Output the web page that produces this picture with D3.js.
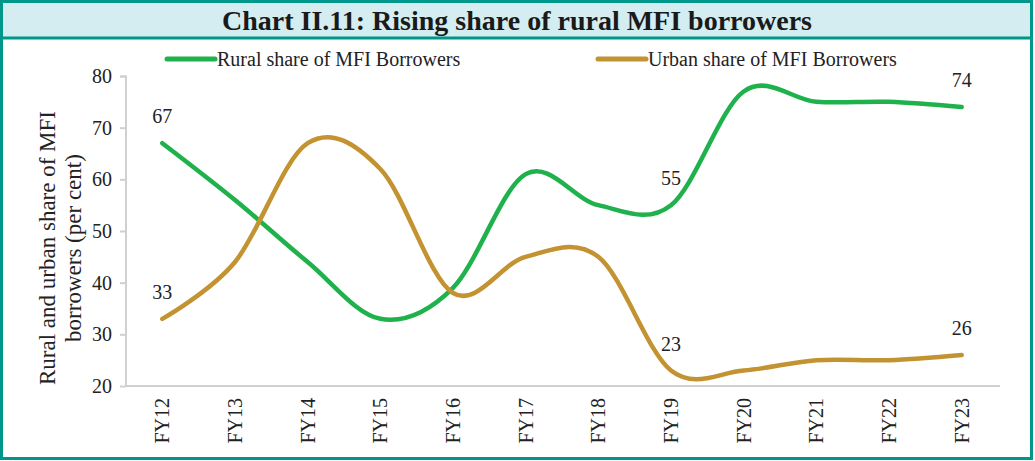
<!DOCTYPE html>
<html>
<head>
<meta charset="utf-8">
<script src="https://cdn.jsdelivr.net/npm/d3@7"></script>
<style>
  body { margin: 0; background: #fff; }
  svg { display: block; }
</style>
</head>
<body>
<svg id="chart"></svg>
<script>
const years = ['FY12', 'FY13', 'FY14', 'FY15', 'FY16', 'FY17', 'FY18', 'FY19', 'FY20', 'FY21', 'FY22', 'FY23']
const rural = [67, 56, 44, 33, 39, 61, 55, 55, 77, 75, 75, 74]
const urban = [33, 44, 67, 62, 38, 45, 45, 23, 23, 25, 25, 26]
const yTicks = [20, 30, 40, 50, 60, 70, 80]
// which points carry a value label
const labelled = ['FY12', 'FY19', 'FY23']

const W = 1035
const H = 461
const teal = '#00978a'
const green = '#1fb14c'
const gold = '#c29330'
const axisGray = '#d0d0d0'
const serif = '"Liberation Serif", "Times New Roman", serif'

const svg = d3.select('#chart')
  .attr('width', W)
  .attr('height', H)

// outer frame and title bar
svg.append('rect')
  .attr('x', 1.5).attr('y', 1.5)
  .attr('width', W - 5).attr('height', H - 4)
  .attr('fill', '#fff')
  .attr('stroke', teal)
  .attr('stroke-width', 3)
svg.append('rect')
  .attr('x', 3).attr('y', 3)
  .attr('width', W - 8).attr('height', 34)
  .attr('fill', '#d4edf1')
svg.append('line')
  .attr('x1', 0).attr('x2', W - 2)
  .attr('y1', 38).attr('y2', 38)
  .attr('stroke', teal)
  .attr('stroke-width', 3)
svg.append('text')
  .attr('x', 517).attr('y', 20)
  .attr('text-anchor', 'middle')
  .attr('dominant-baseline', 'central')
  .attr('font-family', serif)
  .attr('font-weight', 'bold')
  .attr('font-size', 28)
  .attr('fill', '#1a1a1a')
  .text('Chart II.11: Rising share of rural MFI borrowers')

const x = d3.scaleBand()
  .domain(years)
  .range([126, 998])
const y = d3.scaleLinear()
  .domain([20, 80])
  .range([386, 76])

// axes
const yAxis = svg.append('g')
  .attr('transform', 'translate(126,0)')
  .call(d3.axisLeft(y).tickValues(yTicks).tickSize(6).tickPadding(8))
const xAxis = svg.append('g')
  .attr('transform', 'translate(0,386)')
  .call(d3.axisBottom(x).tickSize(0).tickPadding(12))
xAxis.select('path.domain').attr('d', 'M126,0H1000')
yAxis.select('path.domain').attr('d', 'M-6,0.5H0V310')
  .attr('transform', 'translate(0,76)')
svg.selectAll('.domain, .tick line')
  .attr('stroke', axisGray)
  .attr('stroke-width', 2)
yAxis.selectAll('.tick text')
  .attr('font-family', serif)
  .attr('font-size', 20)
  .attr('fill', '#222')
xAxis.selectAll('.tick text')
  .attr('font-family', serif)
  .attr('font-size', 20)
  .attr('fill', '#222')
  .attr('text-anchor', 'end')
  .attr('dy', '0.35em')
  .attr('transform', 'rotate(-90)')
  .attr('x', -12)
  .attr('y', 0)

// y axis title
const yTitle = svg.append('text')
  .attr('transform', 'translate(47,248) rotate(-90)')
  .attr('text-anchor', 'middle')
  .attr('font-family', serif)
  .attr('font-size', 23)
  .attr('fill', '#222')
yTitle.append('tspan').attr('x', 0).attr('dy', '0.35em').text('Rural and urban share of MFI')
yTitle.append('tspan').attr('x', 0).attr('dy', 26).text('borrowers (per cent)')

// series
const series = [
  { name: 'Rural share of MFI Borrowers', values: rural, color: green },
  { name: 'Urban share of MFI Borrowers', values: urban, color: gold }
]
const cx = (d) => x(d) + x.bandwidth() / 2
const line = d3.line()
  .x((d, i) => cx(years[i]))
  .y((d) => y(d))
  .curve(d3.curveCardinal.tension(0))

svg.append('g')
  .selectAll('path')
  .data(series)
  .join('path')
  .attr('d', (s) => line(s.values))
  .attr('fill', 'none')
  .attr('stroke', (s) => s.color)
  .attr('stroke-width', 4.5)
  .attr('stroke-linecap', 'round')

series.forEach((s) => {
  svg.append('g')
    .selectAll('text')
    .data(years.filter((yr) => labelled.includes(yr)))
    .join('text')
    .attr('x', (yr) => cx(yr))
    .attr('y', (yr) => y(s.values[years.indexOf(yr)]) - 27)
    .attr('text-anchor', 'middle')
    .attr('dominant-baseline', 'central')
    .attr('font-family', serif)
    .attr('font-size', 20)
    .attr('fill', '#222')
    .text((yr) => s.values[years.indexOf(yr)])
})

// legend
const legendX = [167, 598]
const legend = svg.append('g')
  .selectAll('g')
  .data(series)
  .join('g')
  .attr('transform', (s, i) => 'translate(' + legendX[i] + ',59)')
legend.append('line')
  .attr('x1', 0).attr('x2', 48)
  .attr('stroke', (s) => s.color)
  .attr('stroke-width', 5)
  .attr('stroke-linecap', 'round')
legend.append('text')
  .attr('x', 50)
  .attr('dominant-baseline', 'central')
  .attr('font-family', serif)
  .attr('font-size', 20)
  .attr('fill', '#222')
  .text((s) => s.name)
</script>
</body>
</html>
